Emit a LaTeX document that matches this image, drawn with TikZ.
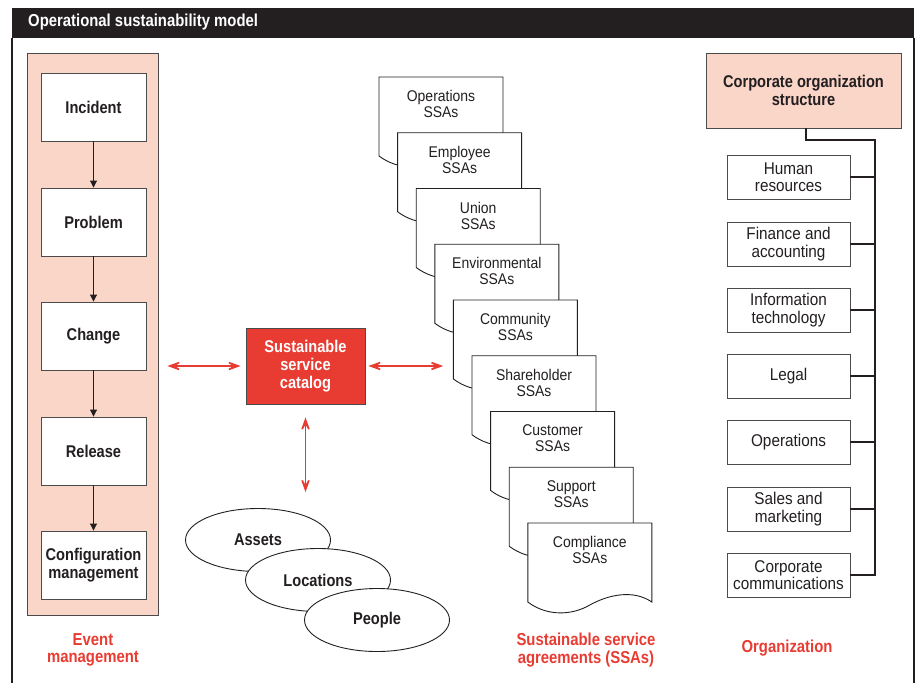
\documentclass[tikz,border=0pt]{standalone}
\usepackage{fontspec}
\setmainfont{Liberation Sans}[FakeStretch=0.9]
\newfontfamily\boldf{Liberation Sans}[FakeStretch=0.86]
\usetikzlibrary{arrows.meta,shapes.geometric}
\definecolor{pinkfill}{RGB}{250,214,200}
\definecolor{redc}{RGB}{232,60,50}
\definecolor{framec}{RGB}{35,31,32}
\definecolor{edgec}{RGB}{75,75,75}
\newcommand{\bfont}{\boldf\bfseries\fontsize{17}{18}\selectfont}
\begin{document}
\begin{tikzpicture}[x=1pt,y=-1pt,
  box/.style={draw=edgec, line width=0.9pt, fill=white, minimum width=105pt, minimum height=68pt, inner sep=0pt, align=center, font=\bfont, text=framec},
  orgbox/.style={draw=edgec, line width=0.9pt, fill=white, minimum width=123pt, minimum height=44pt, inner sep=0pt, align=center, font=\fontsize{17}{17.5}\selectfont, text=framec},
  doctext/.style={minimum width=124pt, inner sep=0pt, align=center, font=\fontsize{15.5}{16}\selectfont, text=framec},
  docline/.style={draw=framec, line width=0.9pt, fill=white},
  ell/.style={ellipse, draw=framec, line width=0.9pt, fill=white, minimum width=145pt, minimum height=63pt, inner sep=0pt, font=\bfont, text=framec},
  redlabel/.style={text=redc, align=center, font=\boldf\bfseries\fontsize{17.3}{17.5}\selectfont},
  redarrow/.style={draw=redc, line width=1.6pt, {Stealth[length=22pt,width=16pt,inset=15pt]}-{Stealth[length=22pt,width=16pt,inset=15pt]}},
  flow/.style={draw=framec, line width=0.9pt, -{Triangle[length=7pt,width=7pt]}},
  orgline/.style={draw=framec, line width=2pt}
]
\useasboundingbox (0,0) rectangle (915,683);
% frame
\fill[framec] (12,8) rectangle (914,38);
\draw[framec, line width=1.3pt] (12,38) -- (12,683);
\draw[framec, line width=1.3pt] (914,38) -- (914,683);
\node[anchor=west, text=white, font=\boldf\bfseries\fontsize{17.3}{18}\selectfont, inner sep=0pt] (title) at (28,22) {Operational sustainability model};

% event management column
\node[draw=edgec, line width=0.9pt, fill=pinkfill, minimum width=131pt, minimum height=562pt, inner sep=0pt] (panel) at (92.5,334) {};
\node[box] (incident) at (93.5,107) {Incident};
\node[box] (problem) at (93.5,222) {Problem};
\node[box] (change) at (93.5,336) {Change};
\node[box] (release) at (93.5,451) {Release};
\node[box] (config) at (93.5,565) {Configuration\\management};
\draw[flow] (incident) -- (problem);
\draw[flow] (problem) -- (change);
\draw[flow] (change) -- (release);
\draw[flow] (release) -- (config);
\node[redlabel] (evlabel) at (93,650) {Event\\management};

% catalog
\node[draw=edgec, line width=0.9pt, fill=redc, minimum width=119pt, minimum height=76pt, inner sep=0pt, align=center, text=white, font=\bfont] (catalog) at (305.5,366) {Sustainable\\service\\catalog};

% ellipses
\node[ell] (assets) at (258,540) {Assets};
\node[ell] (locations) at (318,580) {Locations};
\node[ell] (people) at (377,620) {People};

% SSA documents
\foreach \t [count=\i from 0] in {Operations,Employee,Union,Environmental,Community,Shareholder,Customer,Support,Compliance}{
  \pgfmathsetmacro\xo{379+18.6*\i}
  \pgfmathsetmacro\yo{77+55.75*\i}
  \draw[docline] (\xo,\yo+79) -- (\xo,\yo) -- (\xo+124,\yo) -- (\xo+124,\yo+79)
    .. controls (\xo+105,\yo+66) and (\xo+80,\yo+72) .. (\xo+62,\yo+82)
    .. controls (\xo+45,\yo+92) and (\xo+20,\yo+94) .. (\xo,\yo+79) -- cycle;
  \node[doctext] (doc\i) at (\xo+62,\yo+27) {\t\\SSAs};
}
\node[redlabel] (ssalabel) at (586,650) {Sustainable service\\agreements (SSAs)};

% arrows
\draw[redarrow, shorten <=9pt, shorten >=5pt] (panel.east |- catalog.west) -- (catalog.west);
\draw[redarrow, shorten <=3pt, shorten >=10pt] (catalog.east) -- (catalog.east -| doc4.west);
\draw[redarrow, shorten <=13pt, shorten >=16pt] (catalog.south) -- (catalog.south |- assets.north);

% organization
\node[draw=edgec, line width=0.9pt, fill=pinkfill, minimum width=195pt, minimum height=75pt, inner sep=0pt, align=center, text=framec, font=\bfont] (corp) at (803.5,90.5) {Corporate organization\\structure};
\node[orgbox] (hr) at (788.5,177) {Human\\resources};
\node[orgbox] (fin) at (788.5,244) {Finance and\\accounting};
\node[orgbox] (it) at (788.5,310) {Information\\technology};
\node[orgbox] (legal) at (788.5,376) {Legal};
\node[orgbox] (ops) at (788.5,442) {Operations};
\node[orgbox] (sales) at (788.5,509) {Sales and\\marketing};
\node[orgbox] (comm) at (788.5,575) {Corporate\\communications};
\coordinate (trunk) at (875,140);
\draw[orgline] ([xshift=2.5pt]corp.south) |- (trunk) -- (trunk |- comm.east) -- (comm.east);
\foreach \b in {hr,fin,it,legal,ops,sales}{
  \draw[orgline] (\b.east) -- (\b.east -| trunk);
}
\node[redlabel] (orglabel) at (787,648) {Organization};
\end{tikzpicture}
\end{document}
